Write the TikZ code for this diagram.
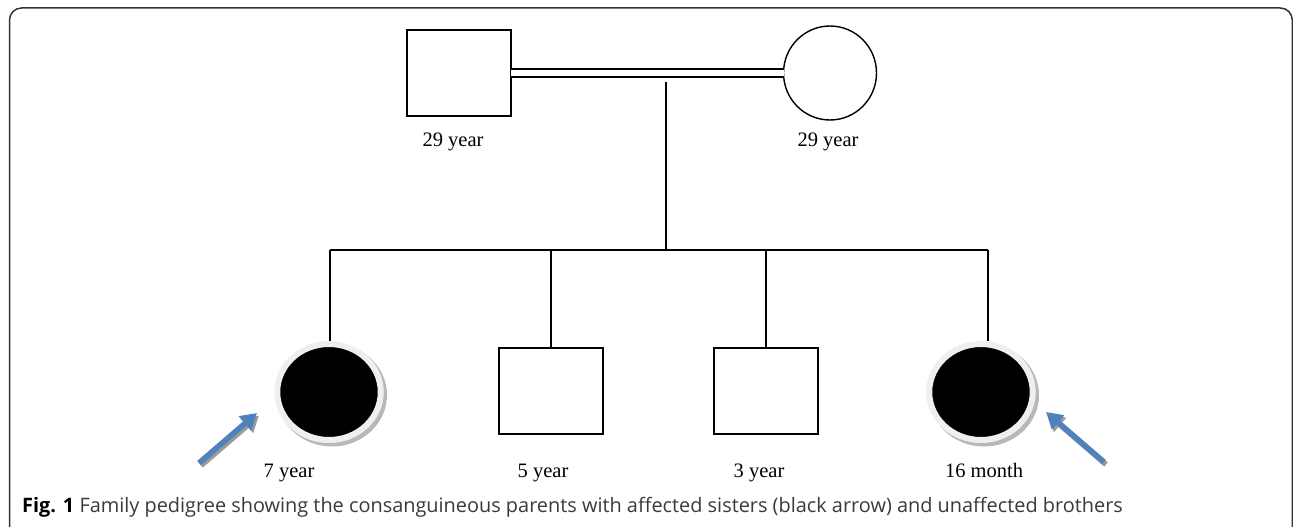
\documentclass[tikz,border=0pt]{standalone}
\usepackage{fontspec}
\setmainfont{Liberation Serif}
\newfontfamily\capfont{Open Sans}
\usetikzlibrary{shapes.geometric,arrows.meta}
\definecolor{framec}{HTML}{333333}
\definecolor{halo}{HTML}{EFEFEF}
\definecolor{shadowc}{HTML}{B8B8B8}
\definecolor{arrowblue}{HTML}{4F81BD}
\definecolor{arrowsh}{HTML}{9A9A9A}
\definecolor{capgray}{HTML}{3A3A3A}
\begin{document}
\begin{tikzpicture}[x=1pt,y=-1pt,
  lbl/.style={font=\fontsize{20.5}{24}\selectfont, anchor=base},
  line/.style={line width=1.4pt},
  male/.style={draw, line width=1.4pt, minimum width=104pt, minimum height=86pt, inner sep=0pt, outer sep=0pt},
  female/.style={ellipse, draw, line width=1.4pt, minimum width=93pt, minimum height=94pt, inner sep=0pt, outer sep=0pt},
  affected/.style={ellipse, fill=black, draw=halo, line width=6pt, minimum width=103.5pt, minimum height=96pt, inner sep=0pt},
  bluearrow/.style={line width=5.5pt, draw=arrowblue, -{Triangle[width=18pt,length=16pt]}},
  shadowarrow/.style={line width=5.5pt, draw=arrowsh, -{Triangle[width=18pt,length=16pt]}}]
\useasboundingbox (0,0) rectangle (1293,527);
\clip (0,0) rectangle (1293,527);
% frame
\draw[framec, line width=1.5pt, rounded corners=12pt] (9.5,545) -- (9.5,8) -- (1292.3,8) -- (1292.3,545);
% positions
\coordinate (g1c) at (329,392);
\coordinate (g2c) at (981,392);
% shadows of affected
\fill[shadowc] ([shift={(3,3)}]g1c) ellipse [x radius=55, y radius=51.5];
\fill[shadowc] ([shift={(3,3)}]g2c) ellipse [x radius=55, y radius=51.5];
% parents
\node[male] (father) at (459,73) {};
\node[female] (mother) at (830,73) {};
\draw[line, double distance=6.6pt] (father.east) -- (mother.west);
\node[lbl] (lf) at (453,146) {29 year};
\node[lbl] (lm) at (828,146) {29 year};
% descent
\coordinate (d0) at (666,82);
\coordinate (d1) at (666,250);
\coordinate (sL) at (330,250);
\coordinate (sR) at (988,250);
\draw[line] (d0) -- (d1);
\draw[line] (sL) -- (sR);
% children
\node[affected] (g1) at (g1c) {};
\node[male] (b1) at (551,391) {};
\node[male] (b2) at (766,391) {};
\node[affected] (g2) at (g2c) {};
\draw[line] (sL) -- (sL |- g1.north);
\draw[line] (b1.north |- sL) -- (b1.north);
\draw[line] (b2.north |- sL) -- (b2.north);
\draw[line] (sR) -- (sR |- g2.north);
\node[lbl] (l1) at (289,477) {7 year};
\node[lbl] (l2) at (543,477) {5 year};
\node[lbl] (l3) at (759,477) {3 year};
\node[lbl] (l4) at (984,477) {16 month};
% arrows
\coordinate (a1s) at (199,463);
\coordinate (a1e) at (257,413);
\coordinate (a2s) at (1104,462);
\coordinate (a2e) at (1046,412);
\draw[shadowarrow] ([shift={(2,2.5)}]a1s) -- ([shift={(2,2.5)}]a1e);
\draw[bluearrow] (a1s) -- (a1e);
\draw[shadowarrow] ([shift={(2,2.5)}]a2s) -- ([shift={(2,2.5)}]a2e);
\draw[bluearrow] (a2s) -- (a2e);
% caption
\node[anchor=base west, inner sep=0pt, text=capgray, font=\capfont\fontsize{19.9}{23}\selectfont] (cap) at (22,512) {{\color{black}\textbf{Fig. 1}} Family pedigree showing the consanguineous parents with affected sisters (black arrow) and unaffected brothers};
\end{tikzpicture}
\end{document}
